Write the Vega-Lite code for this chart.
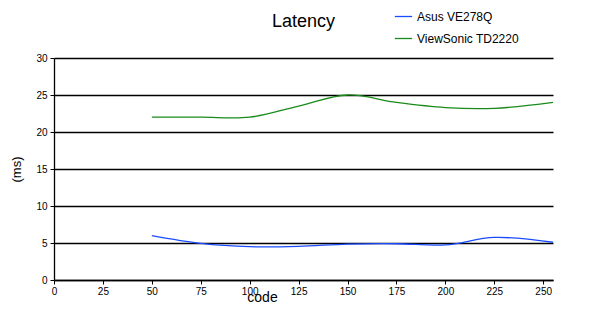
{
  "$schema": "https://vega.github.io/schema/vega-lite/v6.json",
  "autosize": {"type": "none"},
  "width": 499,
  "height": 222,
  "padding": {"left": 54, "top": 58, "right": 47, "bottom": 39},
  "background": "white",
  "title": {"text": "Latency", "anchor": "middle", "fontSize": 18, "font": "Liberation Sans", "fontWeight": "normal", "color": "black", "offset": -24},
  "data": {"values": [
    {"code": 50, "ms": 6.0, "monitor": "Asus VE278Q"},
    {"code": 75, "ms": 4.95, "monitor": "Asus VE278Q"},
    {"code": 100, "ms": 4.5, "monitor": "Asus VE278Q"},
    {"code": 125, "ms": 4.55, "monitor": "Asus VE278Q"},
    {"code": 150, "ms": 4.85, "monitor": "Asus VE278Q"},
    {"code": 175, "ms": 4.9, "monitor": "Asus VE278Q"},
    {"code": 200, "ms": 4.75, "monitor": "Asus VE278Q"},
    {"code": 225, "ms": 5.75, "monitor": "Asus VE278Q"},
    {"code": 255, "ms": 5.1, "monitor": "Asus VE278Q"},
    {"code": 50, "ms": 22.0, "monitor": "ViewSonic TD2220"},
    {"code": 75, "ms": 22.0, "monitor": "ViewSonic TD2220"},
    {"code": 100, "ms": 22.0, "monitor": "ViewSonic TD2220"},
    {"code": 125, "ms": 23.5, "monitor": "ViewSonic TD2220"},
    {"code": 150, "ms": 25.0, "monitor": "ViewSonic TD2220"},
    {"code": 175, "ms": 24.0, "monitor": "ViewSonic TD2220"},
    {"code": 200, "ms": 23.3, "monitor": "ViewSonic TD2220"},
    {"code": 225, "ms": 23.2, "monitor": "ViewSonic TD2220"},
    {"code": 255, "ms": 24.0, "monitor": "ViewSonic TD2220"}
  ]},
  "mark": {"type": "line", "interpolate": "catmull-rom", "strokeWidth": 1.3},
  "encoding": {
    "x": {"field": "code", "type": "quantitative",
      "scale": {"domain": [0, 255], "nice": false, "zero": true},
      "axis": {"values": [0, 25, 50, 75, 100, 125, 150, 175, 200, 225, 250], "grid": false, "title": "code",
        "titleFont": "Liberation Sans", "titleFontSize": 14, "titleFontWeight": "normal", "titleColor": "black",
        "titleX": 208, "titleY": 17, "titleBaseline": "middle",
        "labelFont": "Liberation Sans", "labelFontSize": 10, "labelColor": "black", "labelPadding": 2,
        "domainColor": "black", "domainWidth": 1.3, "tickColor": "black", "tickSize": 4, "labelFlush": false}},
    "y": {"field": "ms", "type": "quantitative",
      "scale": {"domain": [0, 30], "nice": false},
      "axis": {"values": [0, 5, 10, 15, 20, 25, 30], "grid": true, "gridColor": "black", "gridWidth": 1.3, "gridOpacity": 1,
        "title": "(ms)", "titleFont": "Liberation Sans", "titleFontSize": 13, "titleFontWeight": "normal", "titleColor": "black", "titlePadding": 12,
        "labelFont": "Liberation Sans", "labelFontSize": 10, "labelColor": "black", "labelPadding": 3,
        "domainColor": "black", "domainWidth": 1.3, "tickColor": "black", "tickSize": 4}},
    "color": {"field": "monitor", "type": "nominal",
      "scale": {"domain": ["Asus VE278Q", "ViewSonic TD2220"], "range": ["#1a4cff", "#1a8a1a"]},
      "legend": {"title": null, "orient": "none", "legendX": 340, "legendY": -51, "symbolType": "stroke", "symbolSize": 300, "symbolStrokeWidth": 1.3,
        "labelFont": "Liberation Sans", "labelFontSize": 12, "labelColor": "black", "rowPadding": 6, "labelOffset": 4}}
  },
  "config": {"view": {"stroke": null}}
}
